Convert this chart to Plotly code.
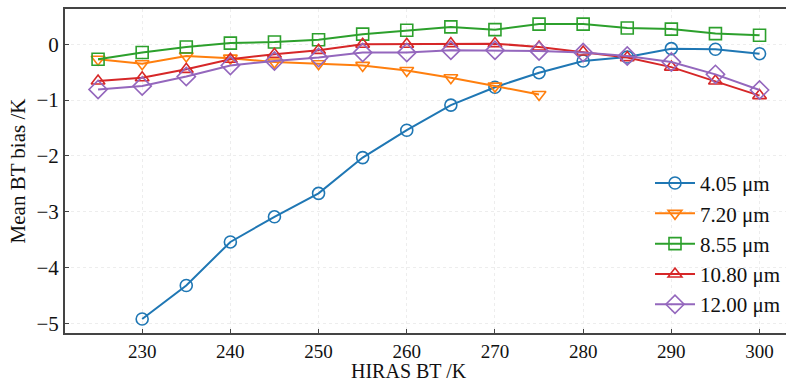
import plotly.graph_objects as go

T_full = [225, 230, 235, 240, 245, 250, 255, 260, 265, 270, 275, 280, 285, 290, 295, 300]
T_405 = [230, 235, 240, 245, 250, 255, 260, 265, 270, 275, 280, 285, 290, 295, 300]
b_405 = [-4.92, -4.32, -3.54, -3.09, -2.67, -2.03, -1.54, -1.09, -0.77, -0.51, -0.30, -0.23, -0.08, -0.09, -0.17]
T_720 = [225, 230, 235, 240, 245, 250, 255, 260, 265, 270, 275]
b_720 = [-0.27, -0.35, -0.21, -0.25, -0.32, -0.35, -0.38, -0.47, -0.60, -0.75, -0.90]
b_855 = [-0.27, -0.15, -0.05, 0.02, 0.04, 0.08, 0.18, 0.25, 0.31, 0.26, 0.36, 0.36, 0.29, 0.27, 0.19, 0.16]
b_1080 = [-0.66, -0.60, -0.45, -0.27, -0.18, -0.11, 0.0, 0.0, 0.01, 0.01, -0.05, -0.14, -0.24, -0.41, -0.66, -0.92]
b_1200 = [-0.81, -0.75, -0.58, -0.38, -0.30, -0.24, -0.15, -0.15, -0.11, -0.11, -0.12, -0.15, -0.21, -0.32, -0.54, -0.82]

series = [
    ("4.05 μm", T_405, b_405, "#1f77b4", "circle-open", 12),
    ("7.20 μm", T_720, b_720, "#ff7f0e", "triangle-down-open", 12),
    ("8.55 μm", T_full, b_855, "#2ca02c", "square-open", 12),
    ("10.80 μm", T_full, b_1080, "#d62728", "triangle-up-open", 12),
    ("12.00 μm", T_full, b_1200, "#9467bd", "diamond-open", 14),
]

FONT = "Liberation Serif"
FS = 21
fig = go.Figure()
for name, x, y, c, sym, sz in series:
    fig.add_trace(go.Scatter(
        x=x, y=y, name=name, mode="lines+markers",
        line=dict(color=c, width=2),
        marker=dict(symbol=sym, size=sz, color=c, line=dict(color=c, width=1.6)),
    ))

fig.update_layout(
    width=786, height=384,
    margin=dict(l=65, r=0, t=9, b=51),
    paper_bgcolor="white", plot_bgcolor="white",
    font=dict(family=FONT, size=FS, color="#111"),
    showlegend=True,
    legend=dict(x=1, xanchor="right", y=0.525, yanchor="top",
                bgcolor="rgba(0,0,0,0)", font=dict(family=FONT, size=FS),
                itemwidth=40, tracegroupgap=0),
    annotations=[dict(text="HIRAS BT /K", xref="paper", yref="paper",
                      x=0.477, y=0, yshift=-51, xanchor="center", yanchor="bottom",
                      showarrow=False, font=dict(family=FONT, size=20, color="#111"))],
)
fig.update_xaxes(
    range=[221.25, 303.0], tickvals=[230, 240, 250, 260, 270, 280, 290, 300],
    showline=True, linecolor="#444", linewidth=2, mirror=True,
    ticks="inside", ticklen=4, tickcolor="#444",
    showgrid=True, gridcolor="#ededed", griddash="dot", zeroline=False,
    tickfont=dict(family=FONT, size=19), ticklabelstandoff=0,
)
fig.update_yaxes(
    range=[-5.17, 0.63], tickvals=[-5, -4, -3, -2, -1, 0],
    ticktext=["−5", "−4", "−3", "−2", "−1", "0"],
    showline=True, linecolor="#444", linewidth=2, mirror=False,
    ticks="inside", ticklen=4, tickcolor="#444",
    showgrid=True, gridcolor="#ededed", griddash="dot", zeroline=False,
    title=dict(text="Mean BT bias /K", font=dict(family=FONT, size=FS), standoff=5),
    tickfont=dict(family=FONT, size=FS),
)
fig.write_html("out.html")
